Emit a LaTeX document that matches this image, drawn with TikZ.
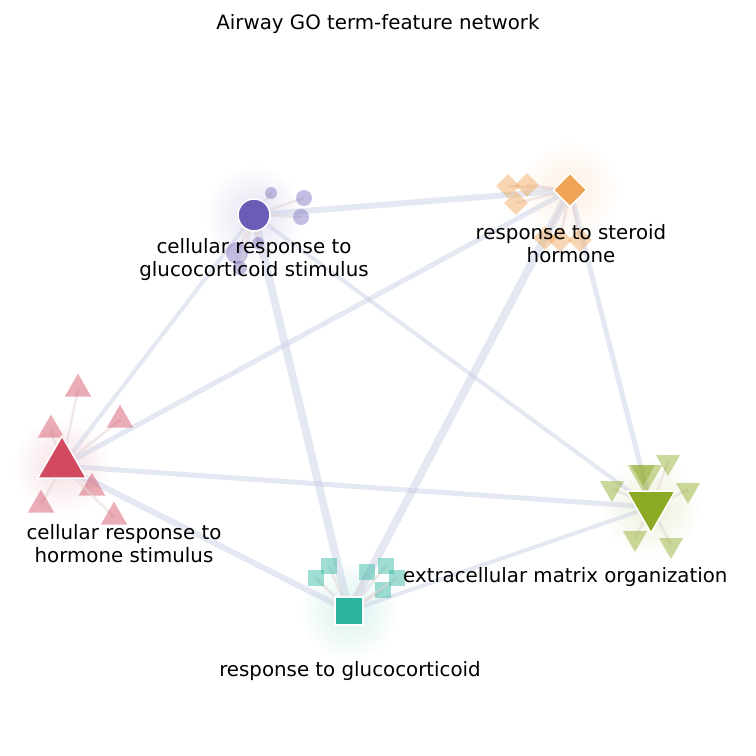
\documentclass[tikz,border=0pt]{standalone}
\usepackage{fontspec}
\setmainfont{DejaVu Sans}
\usetikzlibrary{shapes.geometric}
\definecolor{pur}{HTML}{6A5DB5}
\definecolor{ora}{HTML}{F0A455}
\definecolor{red}{HTML}{D14A60}
\definecolor{grn}{HTML}{8DAA24}
\definecolor{tea}{HTML}{2BB5A0}
\definecolor{edg}{HTML}{C5CCE3}
\begin{document}
\begin{tikzpicture}[x=1pt,y=-1pt,
 hub/.style={draw=edg,line width=#1,opacity=0.45},
 sub/.style={draw=gray!60!red!30,line width=2.5pt,opacity=0.5},
 lab/.style={font=\fontsize{19.8}{23}\selectfont,align=center,inner sep=0pt},
 glow/.style={inner color=#1!18,outer color=white,draw=none}]
\useasboundingbox (0,0) rectangle (756,756);
\fill[white] (0,0) rectangle (756,756);
\node[lab] (title) at (378,24) {Airway GO term-feature network};
% glows
\foreach \p/\c in {{(254,215)}/pur,{(570,190)}/ora,{(62,466)}/red,{(651,507)}/grn,{(349,611)}/tea}
  \shade[glow=\c] \p circle (50);
% hub coordinates
\coordinate (P) at (254,215);
\coordinate (O) at (570,190);
\coordinate (R) at (62,466);
\coordinate (G) at (651,507);
\coordinate (T) at (349,611);
% hub edges
\draw[hub=6pt] (P) -- (O);
\draw[hub=4pt] (P) -- (R);
\draw[hub=8pt] (P) -- (T);
\draw[hub=4pt] (P) -- (G);
\draw[hub=5pt] (O) -- (R);
\draw[hub=8pt] (O) -- (T);
\draw[hub=5pt] (O) -- (G);
\draw[hub=5pt] (R) -- (G);
\draw[hub=6pt] (R) -- (T);
\draw[hub=4pt] (T) -- (G);
% purple satellites
\foreach \x/\y/\r in {271/193/6,304/198/8,301/217/8,237/253/11,258/243/6,240/268/7}{
  \draw[sub] (P) -- (\x,\y);
  \fill[pur,opacity=0.4] (\x,\y) circle (\r);}
% orange satellites
\foreach \x/\y in {508/186,527/185,516/203,580/240,560/240,545/238}{
  \draw[sub] (O) -- (\x,\y);
  \node[diamond,fill=ora,opacity=0.45,minimum size=24pt,inner sep=0pt] at (\x,\y) {};}
% red satellites
\foreach \x/\y in {78/389,51/430,120/420,92/488,41/505,114/517}{
  \draw[sub] (R) -- (\x,\y);
  \node[isosceles triangle,isosceles triangle apex angle=60,shape border rotate=90,fill=red,opacity=0.45,minimum height=23pt,inner sep=0pt] at (\x,\y) {};}
% green satellites
\foreach \x/\y in {643/472,668/462,612/488,688/490,635/538,671/545}{
  \draw[sub] (G) -- (\x,\y);
  \node[isosceles triangle,isosceles triangle apex angle=60,shape border rotate=-90,fill=grn,opacity=0.45,minimum height=21pt,inner sep=0pt] at (\x,\y) {};}
\node[isosceles triangle,isosceles triangle apex angle=60,shape border rotate=-90,fill=grn,opacity=0.45,minimum height=30pt,inner sep=0pt] at (645,475) {};
% teal satellites
\foreach \x/\y in {329/566,316/578,367/572,386/566,383/590,397/578}{
  \draw[sub] (T) -- (\x,\y);
  \fill[tea,opacity=0.45] (\x-8,\y-8) rectangle +(16,16);}
% hubs
\node[circle,fill=pur,draw=white,line width=1.5pt,minimum size=32pt,inner sep=0pt] (pn) at (P) {};
\node[diamond,fill=ora,draw=white,line width=1.5pt,minimum size=34pt,inner sep=0pt] (on) at (O) {};
\node[isosceles triangle,isosceles triangle apex angle=60,shape border rotate=90,fill=red,draw=white,line width=1.5pt,minimum height=42pt,inner sep=0pt] (rn) at (62,464) {};
\node[isosceles triangle,isosceles triangle apex angle=60,shape border rotate=-90,fill=grn,draw=white,line width=1.5pt,minimum height=42pt,inner sep=0pt] (gn) at (651,505) {};
\node[rectangle,fill=tea,draw=white,line width=1.5pt,minimum size=28pt,inner sep=0pt] (tn) at (T) {};
% labels
\node[lab] (pl) at (254,260) {cellular response to\\glucocorticoid stimulus};
\node[lab] (ol) at (571,244) {response to steroid\\hormone};
\node[lab] (rl) at (124,544) {cellular response to\\hormone stimulus};
\node[lab,anchor=west] (gl) at (403,577) {extracellular matrix organization};
\node[lab] (tl) at (350,671) {response to glucocorticoid};
\end{tikzpicture}
\end{document}
